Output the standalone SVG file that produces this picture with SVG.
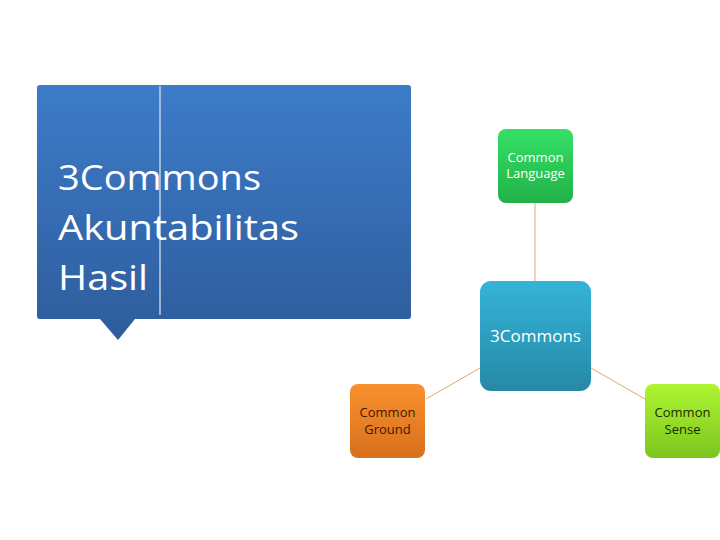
<svg xmlns="http://www.w3.org/2000/svg" width="720" height="540" viewBox="0 0 720 540">
<defs>
<linearGradient id="gb" x1="0" y1="0" x2="0" y2="1"><stop offset="0" stop-color="#3d7cc9"/><stop offset="1" stop-color="#2e5c9c"/></linearGradient>
<linearGradient id="gl" x1="0" y1="0" x2="0" y2="1"><stop offset="0" stop-color="#35e067"/><stop offset="1" stop-color="#22b148"/></linearGradient>
<linearGradient id="gc" x1="0" y1="0" x2="0" y2="1"><stop offset="0" stop-color="#34b4d9"/><stop offset="1" stop-color="#2788a6"/></linearGradient>
<linearGradient id="gg" x1="0" y1="0" x2="0" y2="1"><stop offset="0" stop-color="#f9902e"/><stop offset="1" stop-color="#d8701c"/></linearGradient>
<linearGradient id="gs" x1="0" y1="0" x2="0" y2="1"><stop offset="0" stop-color="#aef532"/><stop offset="1" stop-color="#7cc51e"/></linearGradient>
</defs>
<style>
.t{font-family:"Open Sans","Liberation Sans",sans-serif;text-anchor:middle;font-size:13px}
.big{font-size:17px}
</style>
<rect width="720" height="540" fill="#fff"/>
<g id="callout">
<path d="M40,85 H408 Q411,85 411,88 V316 Q411,319 408,319 H135 L118,340 L100,319 H40 Q37,319 37,316 V88 Q37,85 40,85 Z" fill="url(#gb)"/>
<line x1="160" y1="86" x2="160" y2="315" stroke="#dfe8f5" stroke-width="1.2"/>
<g font-family="Open Sans,Liberation Sans,sans-serif" font-size="35" fill="#fff">
<text x="58" y="190" textLength="203" lengthAdjust="spacingAndGlyphs">3Commons</text>
<text x="58" y="240" textLength="241" lengthAdjust="spacingAndGlyphs">Akuntabilitas</text>
<text x="58" y="290" textLength="90" lengthAdjust="spacingAndGlyphs">Hasil</text>
</g>
</g>
<g id="connectors" stroke="#e0a86a" stroke-width="1">
<line x1="535" y1="203" x2="535" y2="281"/>
<line x1="480" y1="368" x2="426" y2="399"/>
<line x1="591" y1="368" x2="645" y2="399"/>
</g>
<g id="language"><rect x="498" y="129" width="75" height="74" rx="8" fill="url(#gl)"/>
<text class="t" x="535.5" y="162" fill="#fff">Common</text><text class="t" x="535.5" y="178" fill="#fff">Language</text></g>
<g id="center"><rect x="480" y="281" width="111" height="110" rx="11" fill="url(#gc)"/>
<text class="t big" x="535.5" y="342" fill="#fff">3Commons</text></g>
<g id="ground"><rect x="350" y="384" width="75" height="74" rx="8" fill="url(#gg)"/>
<text class="t" x="387.5" y="417" fill="#3a1a00">Common</text><text class="t" x="387.5" y="434" fill="#3a1a00">Ground</text></g>
<g id="sense"><rect x="645" y="384" width="75" height="74" rx="8" fill="url(#gs)"/>
<text class="t" x="682.5" y="417" fill="#1a2a00">Common</text><text class="t" x="682.5" y="434" fill="#1a2a00">Sense</text></g>
</svg>
